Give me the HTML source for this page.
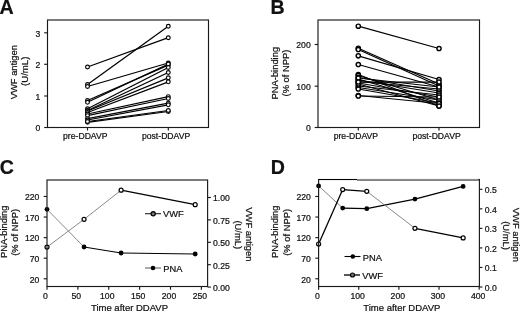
<!DOCTYPE html>
<html><head><meta charset="utf-8"><style>
html,body{margin:0;padding:0;background:#fff;}
svg{display:block;will-change:transform;}
text{font-family:"Liberation Sans", sans-serif;fill:#111;stroke:#111;stroke-width:0.22px;}
</style></head><body>
<svg width="520" height="311" viewBox="0 0 520 311">
<rect width="520" height="311" fill="#fff"/>
<text x="-0.6" y="13.6" font-size="19.6" font-weight="bold">A</text>
<text x="270.6" y="13.6" font-size="19.6" font-weight="bold">B</text>
<text x="-0.2" y="173.5" font-size="19.6" font-weight="bold">C</text>
<text x="270.8" y="173.6" font-size="19.6" font-weight="bold">D</text>
<line x1="87.5" y1="67" x2="168.3" y2="37.7" stroke="#000" stroke-width="1.25"/>
<line x1="87.5" y1="84.5" x2="168.3" y2="26.2" stroke="#000" stroke-width="1.25"/>
<line x1="87.5" y1="86.5" x2="168.3" y2="63" stroke="#000" stroke-width="1.25"/>
<line x1="87.5" y1="100.5" x2="168.3" y2="65.1" stroke="#000" stroke-width="1.25"/>
<line x1="87.5" y1="102.3" x2="168.3" y2="64" stroke="#000" stroke-width="1.25"/>
<line x1="87.5" y1="108.8" x2="168.3" y2="67.5" stroke="#000" stroke-width="1.25"/>
<line x1="87.5" y1="110.5" x2="168.3" y2="72.5" stroke="#000" stroke-width="1.25"/>
<line x1="87.5" y1="111" x2="168.3" y2="77.8" stroke="#000" stroke-width="1.25"/>
<line x1="87.5" y1="112.5" x2="168.3" y2="81.8" stroke="#000" stroke-width="1.25"/>
<line x1="87.5" y1="114" x2="168.3" y2="96.7" stroke="#000" stroke-width="1.25"/>
<line x1="87.5" y1="115.6" x2="168.3" y2="98.5" stroke="#000" stroke-width="1.25"/>
<line x1="87.5" y1="118.7" x2="168.3" y2="103.2" stroke="#000" stroke-width="1.25"/>
<line x1="87.5" y1="120" x2="168.3" y2="104.8" stroke="#000" stroke-width="1.25"/>
<line x1="87.5" y1="122.3" x2="168.3" y2="111.5" stroke="#000" stroke-width="1.25"/>
<line x1="87.5" y1="121.5" x2="168.3" y2="110.5" stroke="#000" stroke-width="1.25"/>
<circle cx="87.5" cy="67" r="1.9" fill="#fff" stroke="#000" stroke-width="1.15"/>
<circle cx="168.3" cy="37.7" r="1.9" fill="#fff" stroke="#000" stroke-width="1.15"/>
<circle cx="87.5" cy="84.5" r="1.9" fill="#fff" stroke="#000" stroke-width="1.15"/>
<circle cx="168.3" cy="26.2" r="1.9" fill="#fff" stroke="#000" stroke-width="1.15"/>
<circle cx="87.5" cy="86.5" r="1.9" fill="#fff" stroke="#000" stroke-width="1.15"/>
<circle cx="168.3" cy="63" r="1.9" fill="#fff" stroke="#000" stroke-width="1.15"/>
<circle cx="87.5" cy="100.5" r="1.9" fill="#fff" stroke="#000" stroke-width="1.15"/>
<circle cx="168.3" cy="65.1" r="1.9" fill="#fff" stroke="#000" stroke-width="1.15"/>
<circle cx="87.5" cy="102.3" r="1.9" fill="#fff" stroke="#000" stroke-width="1.15"/>
<circle cx="168.3" cy="64" r="1.9" fill="#fff" stroke="#000" stroke-width="1.15"/>
<circle cx="87.5" cy="108.8" r="1.9" fill="#fff" stroke="#000" stroke-width="1.15"/>
<circle cx="168.3" cy="67.5" r="1.9" fill="#fff" stroke="#000" stroke-width="1.15"/>
<circle cx="87.5" cy="110.5" r="1.9" fill="#fff" stroke="#000" stroke-width="1.15"/>
<circle cx="168.3" cy="72.5" r="1.9" fill="#fff" stroke="#000" stroke-width="1.15"/>
<circle cx="87.5" cy="111" r="1.9" fill="#fff" stroke="#000" stroke-width="1.15"/>
<circle cx="168.3" cy="77.8" r="1.9" fill="#fff" stroke="#000" stroke-width="1.15"/>
<circle cx="87.5" cy="112.5" r="1.9" fill="#fff" stroke="#000" stroke-width="1.15"/>
<circle cx="168.3" cy="81.8" r="1.9" fill="#fff" stroke="#000" stroke-width="1.15"/>
<circle cx="87.5" cy="114" r="1.9" fill="#fff" stroke="#000" stroke-width="1.15"/>
<circle cx="168.3" cy="96.7" r="1.9" fill="#fff" stroke="#000" stroke-width="1.15"/>
<circle cx="87.5" cy="115.6" r="1.9" fill="#fff" stroke="#000" stroke-width="1.15"/>
<circle cx="168.3" cy="98.5" r="1.9" fill="#fff" stroke="#000" stroke-width="1.15"/>
<circle cx="87.5" cy="118.7" r="1.9" fill="#fff" stroke="#000" stroke-width="1.15"/>
<circle cx="168.3" cy="103.2" r="1.9" fill="#fff" stroke="#000" stroke-width="1.15"/>
<circle cx="87.5" cy="120" r="1.9" fill="#fff" stroke="#000" stroke-width="1.15"/>
<circle cx="168.3" cy="104.8" r="1.9" fill="#fff" stroke="#000" stroke-width="1.15"/>
<circle cx="87.5" cy="122.3" r="1.9" fill="#fff" stroke="#000" stroke-width="1.15"/>
<circle cx="168.3" cy="111.5" r="1.9" fill="#fff" stroke="#000" stroke-width="1.15"/>
<circle cx="87.5" cy="121.5" r="1.9" fill="#fff" stroke="#000" stroke-width="1.15"/>
<circle cx="168.3" cy="110.5" r="1.9" fill="#fff" stroke="#000" stroke-width="1.15"/>
<rect x="47.5" y="20" width="161.0" height="107.5" fill="none" stroke="#1a1a1a" stroke-width="1.15"/>
<line x1="44.2" y1="127.5" x2="47.5" y2="127.5" stroke="#1a1a1a" stroke-width="1.15"/>
<text x="40.2" y="131.2" font-size="8.65" text-anchor="end" >0</text>
<line x1="44.2" y1="96.0" x2="47.5" y2="96.0" stroke="#1a1a1a" stroke-width="1.15"/>
<text x="40.2" y="99.7" font-size="8.65" text-anchor="end" >1</text>
<line x1="44.2" y1="64.3" x2="47.5" y2="64.3" stroke="#1a1a1a" stroke-width="1.15"/>
<text x="40.2" y="68.0" font-size="8.65" text-anchor="end" >2</text>
<line x1="44.2" y1="32.8" x2="47.5" y2="32.8" stroke="#1a1a1a" stroke-width="1.15"/>
<text x="40.2" y="36.5" font-size="8.65" text-anchor="end" >3</text>
<line x1="87.5" y1="127.5" x2="87.5" y2="130.5" stroke="#1a1a1a" stroke-width="1.15"/>
<line x1="168.3" y1="127.5" x2="168.3" y2="130.5" stroke="#1a1a1a" stroke-width="1.15"/>
<text x="85.3" y="139" font-size="8.65" text-anchor="middle" >pre-DDAVP</text>
<text x="166.10000000000002" y="139" font-size="8.65" text-anchor="middle" >post-DDAVP</text>
<text x="0" y="0" font-size="9.4" text-anchor="middle" transform="translate(16.6,72.2) rotate(-90)">VWF antigen</text>
<text x="0" y="0" font-size="9.6" text-anchor="middle" transform="translate(27.9,71.3) rotate(-90)">(U/mL)</text>
<line x1="358.3" y1="26.2" x2="439" y2="48.5" stroke="#000" stroke-width="1.25"/>
<line x1="358.3" y1="48.2" x2="439" y2="84" stroke="#000" stroke-width="1.25"/>
<line x1="358.3" y1="49.5" x2="439" y2="86" stroke="#000" stroke-width="1.25"/>
<line x1="358.3" y1="55.8" x2="439" y2="79.5" stroke="#000" stroke-width="1.25"/>
<line x1="358.3" y1="64.5" x2="439" y2="87" stroke="#000" stroke-width="1.25"/>
<line x1="358.3" y1="74.5" x2="439" y2="106" stroke="#000" stroke-width="1.25"/>
<line x1="358.3" y1="75.5" x2="439" y2="100" stroke="#000" stroke-width="1.25"/>
<line x1="358.3" y1="77.5" x2="439" y2="91" stroke="#000" stroke-width="1.25"/>
<line x1="358.3" y1="79" x2="439" y2="103" stroke="#000" stroke-width="1.25"/>
<line x1="358.3" y1="80" x2="439" y2="93" stroke="#000" stroke-width="1.25"/>
<line x1="358.3" y1="81.5" x2="439" y2="89" stroke="#000" stroke-width="1.25"/>
<line x1="358.3" y1="83" x2="439" y2="97" stroke="#000" stroke-width="1.25"/>
<line x1="358.3" y1="86" x2="439" y2="95" stroke="#000" stroke-width="1.25"/>
<line x1="358.3" y1="87.5" x2="439" y2="100" stroke="#000" stroke-width="1.25"/>
<line x1="358.3" y1="89" x2="439" y2="103" stroke="#000" stroke-width="1.25"/>
<line x1="358.3" y1="95.5" x2="439" y2="103.5" stroke="#000" stroke-width="1.25"/>
<line x1="358.3" y1="96" x2="439" y2="97" stroke="#000" stroke-width="1.25"/>
<line x1="358.3" y1="78" x2="439" y2="87" stroke="#000" stroke-width="1.25"/>
<line x1="358.3" y1="84" x2="439" y2="106" stroke="#000" stroke-width="1.25"/>
<line x1="358.3" y1="82" x2="439" y2="82" stroke="#000" stroke-width="1.25"/>
<circle cx="358.3" cy="26.2" r="2.1" fill="#fff" stroke="#000" stroke-width="1.45"/>
<circle cx="439" cy="48.5" r="2.1" fill="#fff" stroke="#000" stroke-width="1.45"/>
<circle cx="358.3" cy="48.2" r="2.1" fill="#fff" stroke="#000" stroke-width="1.45"/>
<circle cx="439" cy="84" r="2.1" fill="#fff" stroke="#000" stroke-width="1.45"/>
<circle cx="358.3" cy="49.5" r="2.1" fill="#fff" stroke="#000" stroke-width="1.45"/>
<circle cx="439" cy="86" r="2.1" fill="#fff" stroke="#000" stroke-width="1.45"/>
<circle cx="358.3" cy="55.8" r="2.1" fill="#fff" stroke="#000" stroke-width="1.45"/>
<circle cx="439" cy="79.5" r="2.1" fill="#fff" stroke="#000" stroke-width="1.45"/>
<circle cx="358.3" cy="64.5" r="2.1" fill="#fff" stroke="#000" stroke-width="1.45"/>
<circle cx="439" cy="87" r="2.1" fill="#fff" stroke="#000" stroke-width="1.45"/>
<circle cx="358.3" cy="74.5" r="2.1" fill="#fff" stroke="#000" stroke-width="1.45"/>
<circle cx="439" cy="106" r="2.1" fill="#fff" stroke="#000" stroke-width="1.45"/>
<circle cx="358.3" cy="75.5" r="2.1" fill="#fff" stroke="#000" stroke-width="1.45"/>
<circle cx="439" cy="100" r="2.1" fill="#fff" stroke="#000" stroke-width="1.45"/>
<circle cx="358.3" cy="77.5" r="2.1" fill="#fff" stroke="#000" stroke-width="1.45"/>
<circle cx="439" cy="91" r="2.1" fill="#fff" stroke="#000" stroke-width="1.45"/>
<circle cx="358.3" cy="79" r="2.1" fill="#fff" stroke="#000" stroke-width="1.45"/>
<circle cx="439" cy="103" r="2.1" fill="#fff" stroke="#000" stroke-width="1.45"/>
<circle cx="358.3" cy="80" r="2.1" fill="#fff" stroke="#000" stroke-width="1.45"/>
<circle cx="439" cy="93" r="2.1" fill="#fff" stroke="#000" stroke-width="1.45"/>
<circle cx="358.3" cy="81.5" r="2.1" fill="#fff" stroke="#000" stroke-width="1.45"/>
<circle cx="439" cy="89" r="2.1" fill="#fff" stroke="#000" stroke-width="1.45"/>
<circle cx="358.3" cy="83" r="2.1" fill="#fff" stroke="#000" stroke-width="1.45"/>
<circle cx="439" cy="97" r="2.1" fill="#fff" stroke="#000" stroke-width="1.45"/>
<circle cx="358.3" cy="86" r="2.1" fill="#fff" stroke="#000" stroke-width="1.45"/>
<circle cx="439" cy="95" r="2.1" fill="#fff" stroke="#000" stroke-width="1.45"/>
<circle cx="358.3" cy="87.5" r="2.1" fill="#fff" stroke="#000" stroke-width="1.45"/>
<circle cx="439" cy="100" r="2.1" fill="#fff" stroke="#000" stroke-width="1.45"/>
<circle cx="358.3" cy="89" r="2.1" fill="#fff" stroke="#000" stroke-width="1.45"/>
<circle cx="439" cy="103" r="2.1" fill="#fff" stroke="#000" stroke-width="1.45"/>
<circle cx="358.3" cy="95.5" r="2.1" fill="#fff" stroke="#000" stroke-width="1.45"/>
<circle cx="439" cy="103.5" r="2.1" fill="#fff" stroke="#000" stroke-width="1.45"/>
<circle cx="358.3" cy="96" r="2.1" fill="#fff" stroke="#000" stroke-width="1.45"/>
<circle cx="439" cy="97" r="2.1" fill="#fff" stroke="#000" stroke-width="1.45"/>
<circle cx="358.3" cy="78" r="2.1" fill="#fff" stroke="#000" stroke-width="1.45"/>
<circle cx="439" cy="87" r="2.1" fill="#fff" stroke="#000" stroke-width="1.45"/>
<circle cx="358.3" cy="84" r="2.1" fill="#fff" stroke="#000" stroke-width="1.45"/>
<circle cx="439" cy="106" r="2.1" fill="#fff" stroke="#000" stroke-width="1.45"/>
<circle cx="358.3" cy="82" r="2.1" fill="#fff" stroke="#000" stroke-width="1.45"/>
<circle cx="439" cy="82" r="2.1" fill="#fff" stroke="#000" stroke-width="1.45"/>
<rect x="318" y="20" width="161.5" height="107.5" fill="none" stroke="#1a1a1a" stroke-width="1.15"/>
<line x1="314.7" y1="127.5" x2="318" y2="127.5" stroke="#1a1a1a" stroke-width="1.15"/>
<text x="310.7" y="131.2" font-size="8.65" text-anchor="end" >0</text>
<line x1="314.7" y1="86.2" x2="318" y2="86.2" stroke="#1a1a1a" stroke-width="1.15"/>
<text x="310.7" y="89.9" font-size="8.65" text-anchor="end" >100</text>
<line x1="314.7" y1="44.5" x2="318" y2="44.5" stroke="#1a1a1a" stroke-width="1.15"/>
<text x="310.7" y="48.2" font-size="8.65" text-anchor="end" >200</text>
<line x1="358.3" y1="127.5" x2="358.3" y2="130.5" stroke="#1a1a1a" stroke-width="1.15"/>
<line x1="439" y1="127.5" x2="439" y2="130.5" stroke="#1a1a1a" stroke-width="1.15"/>
<text x="355.90000000000003" y="139" font-size="8.65" text-anchor="middle" >pre-DDAVP</text>
<text x="436.6" y="139" font-size="8.65" text-anchor="middle" >post-DDAVP</text>
<text x="0" y="0" font-size="9.4" text-anchor="middle" transform="translate(278.2,73.2) rotate(-90)">PNA-binding</text>
<text x="0" y="0" font-size="9.4" text-anchor="middle" transform="translate(288.9,73) rotate(-90)">(% of NPP)</text>
<line x1="47.0" y1="209.3" x2="84.05000000000001" y2="247" stroke="#7c7c7c" stroke-width="0.9"/>
<line x1="84.05000000000001" y1="247" x2="121.10000000000001" y2="253" stroke="#000" stroke-width="1.2"/>
<line x1="121.10000000000001" y1="253" x2="195.20000000000002" y2="254" stroke="#000" stroke-width="1.2"/>
<line x1="47.0" y1="247.1" x2="84.05000000000001" y2="219.3" stroke="#7c7c7c" stroke-width="0.9"/>
<line x1="84.05000000000001" y1="219.3" x2="121.10000000000001" y2="190.2" stroke="#7c7c7c" stroke-width="0.9"/>
<line x1="121.10000000000001" y1="190.2" x2="195.20000000000002" y2="204.7" stroke="#000" stroke-width="1.2"/>
<circle cx="47.0" cy="209.3" r="2.4" fill="#000"/>
<circle cx="84.05000000000001" cy="247" r="2.4" fill="#000"/>
<circle cx="121.10000000000001" cy="253" r="2.4" fill="#000"/>
<circle cx="195.20000000000002" cy="254" r="2.4" fill="#000"/>
<circle cx="47.0" cy="247.1" r="2.0" fill="#fff" stroke="#000" stroke-width="1.2"/>
<circle cx="84.05000000000001" cy="219.3" r="2.0" fill="#fff" stroke="#000" stroke-width="1.2"/>
<circle cx="121.10000000000001" cy="190.2" r="2.0" fill="#fff" stroke="#000" stroke-width="1.2"/>
<circle cx="195.20000000000002" cy="204.7" r="2.0" fill="#fff" stroke="#000" stroke-width="1.2"/>
<rect x="47" y="180" width="160.6" height="106.5" fill="none" stroke="#1a1a1a" stroke-width="1.15"/>
<line x1="43.7" y1="278.77" x2="47" y2="278.77" stroke="#1a1a1a" stroke-width="1.15"/>
<text x="39.4" y="282.57" font-size="8.65" text-anchor="end" >20</text>
<line x1="43.7" y1="258.195" x2="47" y2="258.195" stroke="#1a1a1a" stroke-width="1.15"/>
<text x="39.4" y="261.995" font-size="8.65" text-anchor="end" >70</text>
<line x1="43.7" y1="237.62" x2="47" y2="237.62" stroke="#1a1a1a" stroke-width="1.15"/>
<text x="39.4" y="241.42000000000002" font-size="8.65" text-anchor="end" >120</text>
<line x1="43.7" y1="217.04500000000002" x2="47" y2="217.04500000000002" stroke="#1a1a1a" stroke-width="1.15"/>
<text x="39.4" y="220.84500000000003" font-size="8.65" text-anchor="end" >170</text>
<line x1="43.7" y1="196.47" x2="47" y2="196.47" stroke="#1a1a1a" stroke-width="1.15"/>
<text x="39.4" y="200.27" font-size="8.65" text-anchor="end" >220</text>
<line x1="207.6" y1="287.1" x2="210.9" y2="287.1" stroke="#1a1a1a" stroke-width="1.15"/>
<text x="213" y="290.90000000000003" font-size="8.65" text-anchor="start" >0.00</text>
<line x1="207.6" y1="264.70000000000005" x2="210.9" y2="264.70000000000005" stroke="#1a1a1a" stroke-width="1.15"/>
<text x="213" y="268.50000000000006" font-size="8.65" text-anchor="start" >0.25</text>
<line x1="207.6" y1="242.3" x2="210.9" y2="242.3" stroke="#1a1a1a" stroke-width="1.15"/>
<text x="213" y="246.10000000000002" font-size="8.65" text-anchor="start" >0.50</text>
<line x1="207.6" y1="219.90000000000003" x2="210.9" y2="219.90000000000003" stroke="#1a1a1a" stroke-width="1.15"/>
<text x="213" y="223.70000000000005" font-size="8.65" text-anchor="start" >0.75</text>
<line x1="207.6" y1="197.50000000000003" x2="210.9" y2="197.50000000000003" stroke="#1a1a1a" stroke-width="1.15"/>
<text x="213" y="201.30000000000004" font-size="8.65" text-anchor="start" >1.00</text>
<line x1="47.0" y1="286.5" x2="47.0" y2="289.7" stroke="#1a1a1a" stroke-width="1.15"/>
<text x="45.5" y="299.3" font-size="8.65" text-anchor="middle" >0</text>
<line x1="77.875" y1="286.5" x2="77.875" y2="289.7" stroke="#1a1a1a" stroke-width="1.15"/>
<text x="76.375" y="299.3" font-size="8.65" text-anchor="middle" >50</text>
<line x1="108.75" y1="286.5" x2="108.75" y2="289.7" stroke="#1a1a1a" stroke-width="1.15"/>
<text x="107.25" y="299.3" font-size="8.65" text-anchor="middle" >100</text>
<line x1="139.625" y1="286.5" x2="139.625" y2="289.7" stroke="#1a1a1a" stroke-width="1.15"/>
<text x="138.125" y="299.3" font-size="8.65" text-anchor="middle" >150</text>
<line x1="170.5" y1="286.5" x2="170.5" y2="289.7" stroke="#1a1a1a" stroke-width="1.15"/>
<text x="169.0" y="299.3" font-size="8.65" text-anchor="middle" >200</text>
<line x1="201.375" y1="286.5" x2="201.375" y2="289.7" stroke="#1a1a1a" stroke-width="1.15"/>
<text x="199.875" y="299.3" font-size="8.65" text-anchor="middle" >250</text>
<text x="129.5" y="311" font-size="9.5" text-anchor="middle" >Time after DDAVP</text>
<text x="0" y="0" font-size="9.4" text-anchor="middle" transform="translate(6.7,231.8) rotate(-90)">PNA-binding</text>
<text x="0" y="0" font-size="9.4" text-anchor="middle" transform="translate(17.9,232.4) rotate(-90)">(% of NPP)</text>
<text x="0" y="0" font-size="9.4" text-anchor="middle" transform="translate(246.3,234.4) rotate(90)">VWF antigen</text>
<text x="0" y="0" font-size="9.4" text-anchor="middle" transform="translate(235.2,234.8) rotate(90)">(U/mL)</text>
<line x1="145" y1="213.7" x2="161" y2="213.7" stroke="#222" stroke-width="1.1"/>
<circle cx="153.2" cy="213.7" r="2.1" fill="#777" stroke="#000" stroke-width="1.2"/>
<text x="163.1" y="217.3" font-size="9.3" text-anchor="start" >VWF</text>
<line x1="145" y1="268" x2="161" y2="268" stroke="#7c7c7c" stroke-width="1.3"/>
<circle cx="153" cy="268" r="2.3" fill="#000"/>
<text x="163.3" y="271.8" font-size="9.3" text-anchor="start" >PNA</text>
<line x1="318.6" y1="185.9" x2="342.69" y2="208.1" stroke="#7c7c7c" stroke-width="0.9"/>
<line x1="342.69" y1="208.1" x2="366.78000000000003" y2="208.7" stroke="#000" stroke-width="1.2"/>
<line x1="366.78000000000003" y1="208.7" x2="414.96000000000004" y2="199.1" stroke="#000" stroke-width="1.2"/>
<line x1="414.96000000000004" y1="199.1" x2="463.14000000000004" y2="186.4" stroke="#000" stroke-width="1.2"/>
<line x1="318.6" y1="244" x2="342.69" y2="189.6" stroke="#000" stroke-width="1.3"/>
<line x1="342.69" y1="189.6" x2="366.78000000000003" y2="191.3" stroke="#000" stroke-width="1.2"/>
<line x1="366.78000000000003" y1="191.3" x2="414.96000000000004" y2="228.3" stroke="#7c7c7c" stroke-width="0.9"/>
<line x1="414.96000000000004" y1="228.3" x2="463.14000000000004" y2="237.9" stroke="#000" stroke-width="1.2"/>
<circle cx="318.6" cy="185.9" r="2.4" fill="#000"/>
<circle cx="342.69" cy="208.1" r="2.4" fill="#000"/>
<circle cx="366.78000000000003" cy="208.7" r="2.4" fill="#000"/>
<circle cx="414.96000000000004" cy="199.1" r="2.4" fill="#000"/>
<circle cx="463.14000000000004" cy="186.4" r="2.4" fill="#000"/>
<circle cx="318.6" cy="244" r="2.0" fill="#fff" stroke="#000" stroke-width="1.2"/>
<circle cx="342.69" cy="189.6" r="2.0" fill="#fff" stroke="#000" stroke-width="1.2"/>
<circle cx="366.78000000000003" cy="191.3" r="2.0" fill="#fff" stroke="#000" stroke-width="1.2"/>
<circle cx="414.96000000000004" cy="228.3" r="2.0" fill="#fff" stroke="#000" stroke-width="1.2"/>
<circle cx="463.14000000000004" cy="237.9" r="2.0" fill="#fff" stroke="#000" stroke-width="1.2"/>
<rect x="318.6" y="179.5" width="160.79999999999995" height="107.0" fill="none" stroke="#1a1a1a" stroke-width="1.15"/>
<rect x="319.6" y="178.5" width="158.79999999999995" height="1.6" fill="#fff"/>
<line x1="318.6" y1="179.5" x2="357" y2="179.5" stroke="#000" stroke-width="1.1"/>
<line x1="357" y1="180" x2="479.4" y2="180" stroke="#1a1a1a" stroke-width="1.15"/>
<line x1="315.3" y1="278.77" x2="318.6" y2="278.77" stroke="#1a1a1a" stroke-width="1.15"/>
<text x="310.9" y="282.57" font-size="8.65" text-anchor="end" >20</text>
<line x1="315.3" y1="258.195" x2="318.6" y2="258.195" stroke="#1a1a1a" stroke-width="1.15"/>
<text x="310.9" y="261.995" font-size="8.65" text-anchor="end" >70</text>
<line x1="315.3" y1="237.62" x2="318.6" y2="237.62" stroke="#1a1a1a" stroke-width="1.15"/>
<text x="310.9" y="241.42000000000002" font-size="8.65" text-anchor="end" >120</text>
<line x1="315.3" y1="217.04500000000002" x2="318.6" y2="217.04500000000002" stroke="#1a1a1a" stroke-width="1.15"/>
<text x="310.9" y="220.84500000000003" font-size="8.65" text-anchor="end" >170</text>
<line x1="315.3" y1="196.47" x2="318.6" y2="196.47" stroke="#1a1a1a" stroke-width="1.15"/>
<text x="310.9" y="200.27" font-size="8.65" text-anchor="end" >220</text>
<line x1="479.4" y1="287.0" x2="482.4" y2="287.0" stroke="#1a1a1a" stroke-width="1.15"/>
<text x="484.8" y="290.8" font-size="8.65" text-anchor="start" >0.0</text>
<line x1="479.4" y1="267.46" x2="482.4" y2="267.46" stroke="#1a1a1a" stroke-width="1.15"/>
<text x="484.8" y="271.26" font-size="8.65" text-anchor="start" >0.1</text>
<line x1="479.4" y1="247.92" x2="482.4" y2="247.92" stroke="#1a1a1a" stroke-width="1.15"/>
<text x="484.8" y="251.72" font-size="8.65" text-anchor="start" >0.2</text>
<line x1="479.4" y1="228.38" x2="482.4" y2="228.38" stroke="#1a1a1a" stroke-width="1.15"/>
<text x="484.8" y="232.18" font-size="8.65" text-anchor="start" >0.3</text>
<line x1="479.4" y1="208.83999999999997" x2="482.4" y2="208.83999999999997" stroke="#1a1a1a" stroke-width="1.15"/>
<text x="484.8" y="212.64" font-size="8.65" text-anchor="start" >0.4</text>
<line x1="479.4" y1="189.3" x2="482.4" y2="189.3" stroke="#1a1a1a" stroke-width="1.15"/>
<text x="484.8" y="193.10000000000002" font-size="8.65" text-anchor="start" >0.5</text>
<line x1="318.6" y1="286.5" x2="318.6" y2="289.7" stroke="#1a1a1a" stroke-width="1.15"/>
<text x="317.5" y="299.3" font-size="8.65" text-anchor="middle" >0</text>
<line x1="358.75" y1="286.5" x2="358.75" y2="289.7" stroke="#1a1a1a" stroke-width="1.15"/>
<text x="357.65" y="299.3" font-size="8.65" text-anchor="middle" >100</text>
<line x1="398.90000000000003" y1="286.5" x2="398.90000000000003" y2="289.7" stroke="#1a1a1a" stroke-width="1.15"/>
<text x="397.8" y="299.3" font-size="8.65" text-anchor="middle" >200</text>
<line x1="439.05" y1="286.5" x2="439.05" y2="289.7" stroke="#1a1a1a" stroke-width="1.15"/>
<text x="437.95" y="299.3" font-size="8.65" text-anchor="middle" >300</text>
<line x1="479.20000000000005" y1="286.5" x2="479.20000000000005" y2="289.7" stroke="#1a1a1a" stroke-width="1.15"/>
<text x="478.1" y="299.3" font-size="8.65" text-anchor="middle" >400</text>
<text x="401.8" y="311" font-size="9.5" text-anchor="middle" >Time after DDAVP</text>
<text x="0" y="0" font-size="9.4" text-anchor="middle" transform="translate(278.4,231.8) rotate(-90)">PNA-binding</text>
<text x="0" y="0" font-size="9.4" text-anchor="middle" transform="translate(289.5,232.4) rotate(-90)">(% of NPP)</text>
<text x="0" y="0" font-size="9.4" text-anchor="middle" transform="translate(513,234.9) rotate(90)">VWF antigen</text>
<text x="0" y="0" font-size="9.4" text-anchor="middle" transform="translate(502.8,235.5) rotate(90)">(U/mL)</text>
<line x1="344.5" y1="256.5" x2="360.5" y2="256.5" stroke="#000" stroke-width="1.1"/>
<circle cx="352.8" cy="256.5" r="2.3" fill="#000"/>
<text x="362.8" y="260.9" font-size="9.3" text-anchor="start" >PNA</text>
<line x1="344" y1="275" x2="360" y2="275" stroke="#000" stroke-width="1.3"/>
<circle cx="352.5" cy="275" r="2.0" fill="#777" stroke="#000" stroke-width="1.2"/>
<text x="362.3" y="279.2" font-size="9.3" text-anchor="start" >VWF</text>
</svg></body></html>
